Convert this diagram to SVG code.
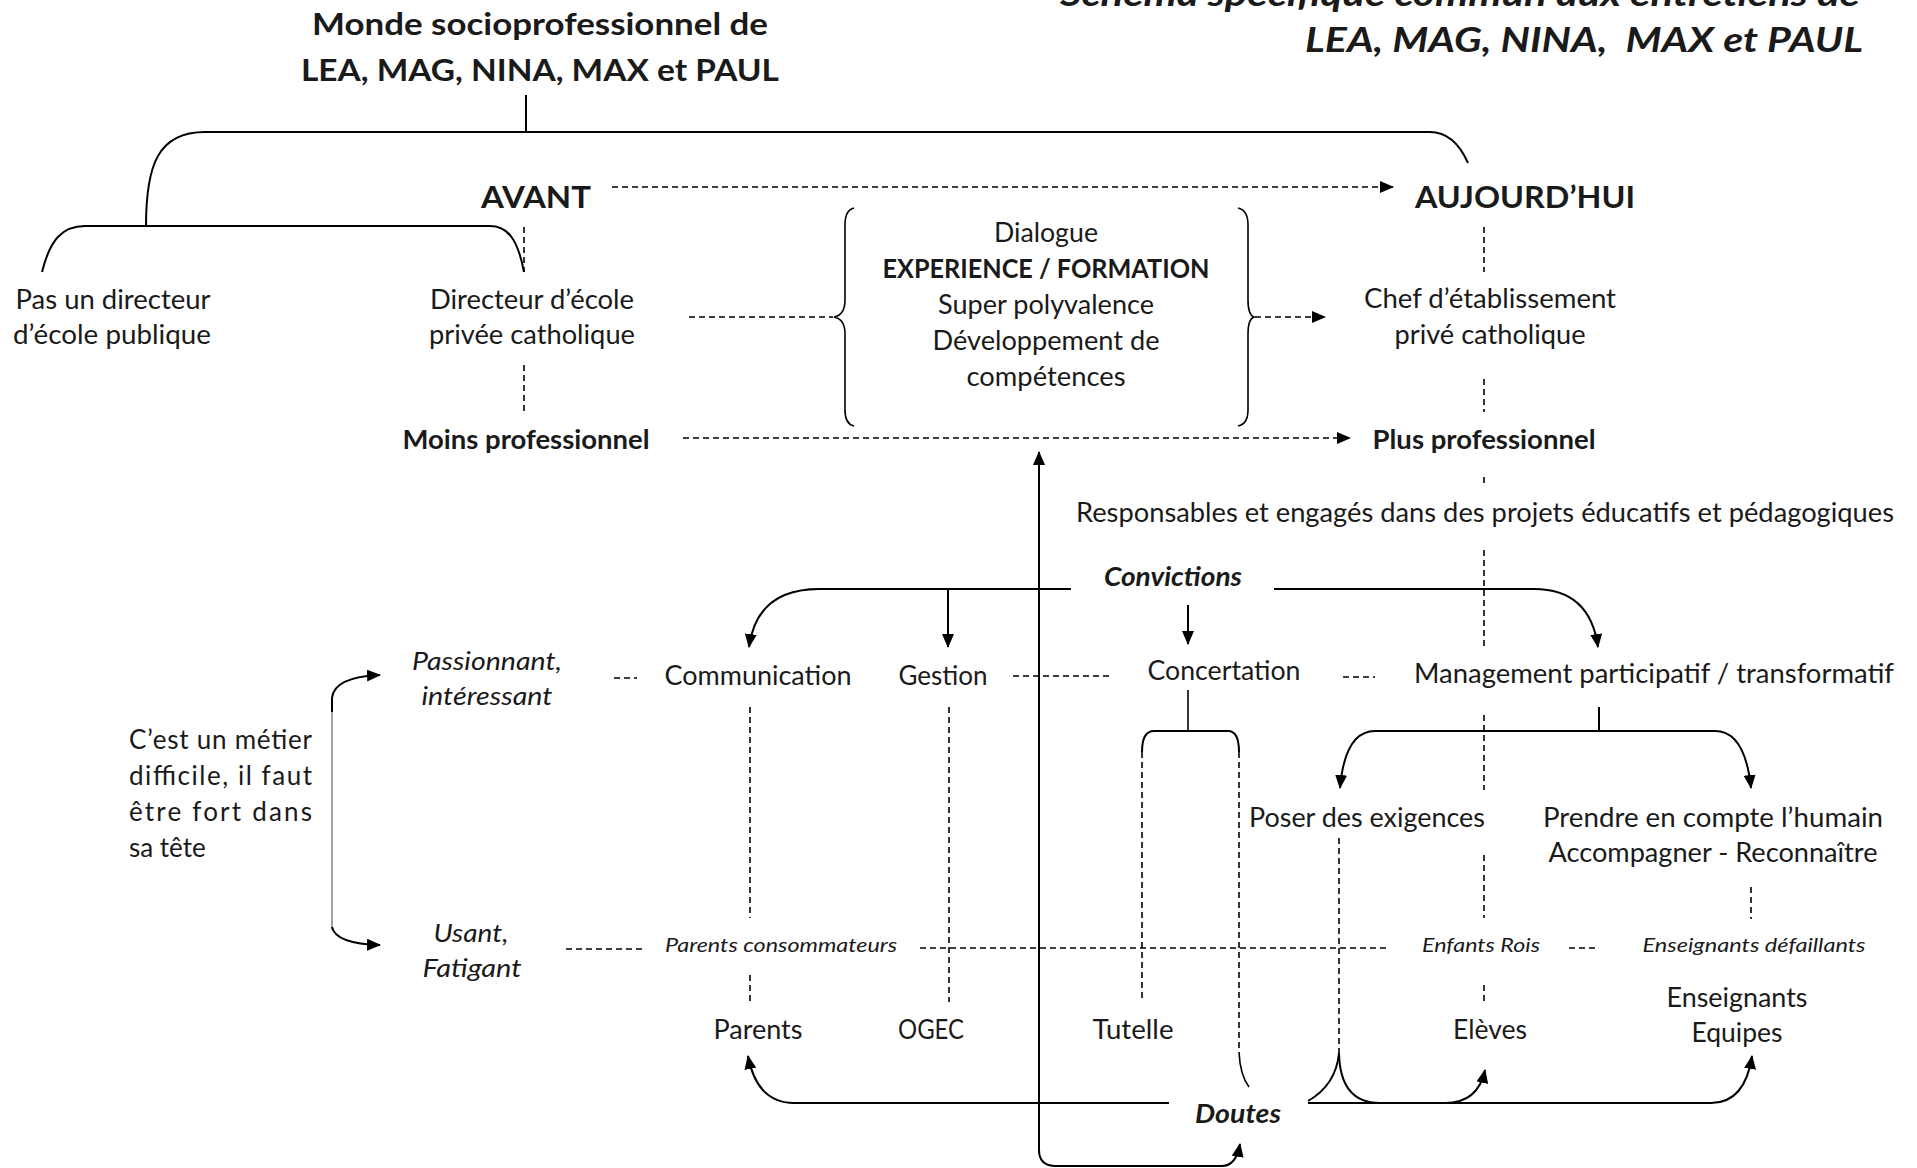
<svg xmlns="http://www.w3.org/2000/svg" width="1917" height="1168" viewBox="0 0 1917 1168">
<style>
text{font-family:Lato,"Liberation Sans",sans-serif;fill:#1a1a1a;font-size:26px}
.c{text-anchor:middle}
.e{text-anchor:end}
.b{font-weight:bold}
.i{font-style:italic}
.t{font-size:31px;font-weight:bold}
.tr{font-size:35px;font-weight:bold;font-style:italic;white-space:pre}
.s{font-size:20px;font-style:italic}
.ln{fill:none;stroke:#000;stroke-width:2}
.th{fill:none;stroke:#444;stroke-width:1}
.br{fill:none;stroke:#000;stroke-width:1.6}
.d{fill:none;stroke:#000;stroke-width:1.6;stroke-dasharray:6 4}
</style>
<defs>
<marker id="a" markerUnits="userSpaceOnUse" markerWidth="14" markerHeight="12" refX="13" refY="6" orient="auto"><path d="M0,0 L14,6 L0,12 z" fill="#000"/></marker>
</defs>
<rect width="1917" height="1168" fill="#fff"/>

<g id="connectors">
<path class="ln" d="M526,95 L526,132"/>
<path class="ln" d="M146,226 C146,165 158,132 205,132 L1430,132 C1448,132 1460,145 1468,163"/>
<path class="ln" d="M42,272 C50,240 62,226 85,226 L490,226 C508,226 518,240 524,272"/>
<path class="d" d="M524,227 L524,272 M524,365 L524,412"/>
<path class="d" d="M1484,227 L1484,272 M1484,379 L1484,412 M1484,477 L1484,484 M1484,550 L1484,647 M1484,715 L1484,790 M1484,855 L1484,918 M1484,985 L1484,1002"/>
<path class="d" d="M612,187 L1393,187" marker-end="url(#a)"/>
<path class="d" d="M689,317 L833,317"/>
<path class="d" d="M1255,317 L1325,317" marker-end="url(#a)"/>
<path class="d" d="M683,438 L1350,438" marker-end="url(#a)"/>
<path class="br" d="M854,208 Q845,210 845,225 L845,300 Q845,315 834,317 Q845,319 845,334 L845,410 Q845,424 854,426"/>
<path class="br" d="M1238,208 Q1248,210 1248,225 L1248,300 Q1248,315 1254,317 Q1248,319 1248,334 L1248,410 Q1248,424 1238,426"/>
<path class="ln" d="M1039,1150 L1039,452" marker-end="url(#a)"/>
<path class="ln" d="M1039,1150 Q1039,1166 1056,1166 L1222,1166 Q1236,1166 1240,1144" marker-end="url(#a)"/>
<path class="ln" d="M1071,589 L819,589 Q757,589 749,647" marker-end="url(#a)"/>
<path class="ln" d="M948,589 L948,647" marker-end="url(#a)"/>
<path class="ln" d="M1274,589 L1534,589 Q1590,589 1598,647" marker-end="url(#a)"/>
<path class="ln" d="M1188,605 L1188,644" marker-end="url(#a)"/>
<path class="d" d="M614,678 L637,678 M1013,676 L1111,676 M1343,677 L1375,677"/>
<path class="ln" d="M1599,707 L1599,731"/>
<path class="ln" d="M1375,731 L1715,731"/>
<path class="ln" d="M1375,731 Q1345,731 1340,788" marker-end="url(#a)"/>
<path class="ln" d="M1715,731 Q1745,731 1751,788" marker-end="url(#a)"/>
<path class="br" d="M1188,690 L1188,731"/>
<path class="ln" d="M1142,752 Q1142,731 1154,731 L1228,731 Q1239,731 1239,752"/>
<path class="d" d="M1142,752 L1142,1002 M1239,752 L1239,1050"/>
<path class="br" d="M1239,1052 Q1240,1075 1249,1087"/>
<path class="d" d="M750,707 L750,918 M750,975 L750,1002"/>
<path class="d" d="M949,707 L949,1002"/>
<path class="d" d="M1339,838 L1339,1053"/>
<path class="d" d="M1751,887 L1751,919"/>
<path class="d" d="M566,949 L642,949 M920,948 L1387,948 M1569,948 L1598,948"/>
<path class="th" d="M332,700 L332,930"/>
<path class="ln" d="M332,712 L332,698 Q334,677 380,675" marker-end="url(#a)"/>
<path class="ln" d="M332,927 Q336,944 380,945" marker-end="url(#a)"/>
<path class="ln" d="M1169,1103 L794,1103 Q757,1103 748,1056" marker-end="url(#a)"/>
<path class="ln" d="M1308,1103 L1711,1103 Q1745,1103 1752,1056" marker-end="url(#a)"/>
<path class="ln" d="M1308,1101 Q1336,1085 1339,1053"/>
<path class="ln" d="M1339,1053 Q1340,1103 1380,1103 L1445,1103 Q1478,1103 1485,1070" marker-end="url(#a)"/>
</g>

<g id="title"><text class="c t" x="540" y="35" textLength="456" lengthAdjust="spacingAndGlyphs">Monde socioprofessionnel de</text><text class="c t" x="540" y="81" textLength="478" lengthAdjust="spacingAndGlyphs">LEA, MAG, NINA, MAX et PAUL</text></g>
<g id="title-right"><text class="e tr" x="1860" y="6" textLength="800" lengthAdjust="spacingAndGlyphs">Schéma spécifique commun aux entretiens de</text><text class="e tr" x="1863" y="52" textLength="558" lengthAdjust="spacingAndGlyphs">LEA, MAG, NINA,  MAX et PAUL</text></g>
<g id="avant"><text class="c t" x="536" y="208" textLength="110" lengthAdjust="spacingAndGlyphs">AVANT</text></g>
<g id="aujourdhui"><text class="c t" x="1525" y="208" textLength="220" lengthAdjust="spacingAndGlyphs">AUJOURD’HUI</text></g>
<g id="pas-directeur"><text class="c" x="113" y="309" textLength="195" lengthAdjust="spacingAndGlyphs">Pas un directeur</text><text class="c" x="112" y="344" textLength="198" lengthAdjust="spacingAndGlyphs">d’école publique</text></g>
<g id="directeur"><text class="c" x="532" y="309" textLength="204" lengthAdjust="spacingAndGlyphs">Directeur d’école</text><text class="c" x="532" y="344" textLength="206" lengthAdjust="spacingAndGlyphs">privée catholique</text></g>
<g id="dialogue"><text class="c" x="1046" y="242" textLength="104" lengthAdjust="spacingAndGlyphs">Dialogue</text><text class="c b" x="1046" y="278" textLength="327" lengthAdjust="spacingAndGlyphs">EXPERIENCE / FORMATION</text><text class="c" x="1046" y="314" textLength="216" lengthAdjust="spacingAndGlyphs">Super polyvalence</text><text class="c" x="1046" y="350" textLength="227" lengthAdjust="spacingAndGlyphs">Développement de</text><text class="c" x="1046" y="386" textLength="159" lengthAdjust="spacingAndGlyphs">compétences</text></g>
<g id="chef"><text class="c" x="1490" y="308" textLength="252" lengthAdjust="spacingAndGlyphs">Chef d’établissement</text><text class="c" x="1490" y="344" textLength="191" lengthAdjust="spacingAndGlyphs">privé catholique</text></g>
<g id="moins"><text class="c b" x="526" y="449" textLength="247" lengthAdjust="spacingAndGlyphs">Moins professionnel</text></g>
<g id="plus"><text class="c b" x="1484" y="449" textLength="223" lengthAdjust="spacingAndGlyphs">Plus professionnel</text></g>
<g id="responsables"><text class="c" x="1485" y="522" textLength="818" lengthAdjust="spacingAndGlyphs">Responsables et engagés dans des projets éducatifs et pédagogiques</text></g>
<g id="convictions"><text class="c b i" x="1173" y="586" textLength="138" lengthAdjust="spacingAndGlyphs">Convictions</text></g>
<g id="communication"><text class="c" x="758" y="685" textLength="187" lengthAdjust="spacingAndGlyphs">Communication</text></g>
<g id="gestion"><text class="c" x="943" y="685" textLength="89" lengthAdjust="spacingAndGlyphs">Gestion</text></g>
<g id="concertation"><text class="c" x="1224" y="680" textLength="153" lengthAdjust="spacingAndGlyphs">Concertation</text></g>
<g id="management"><text class="c" x="1654" y="683" textLength="480" lengthAdjust="spacingAndGlyphs">Management participatif / transformatif</text></g>
<g id="passionnant"><text class="c i" x="487" y="670" textLength="150" lengthAdjust="spacingAndGlyphs">Passionnant,</text><text class="c i" x="487" y="705" textLength="131" lengthAdjust="spacingAndGlyphs">intéressant</text></g>
<g id="metier"><text x="129" y="749" textLength="183" lengthAdjust="spacing">C’est un métier</text><text x="129" y="785" textLength="183" lengthAdjust="spacing">difficile, il faut</text><text x="129" y="821" textLength="183" lengthAdjust="spacing">être fort dans</text><text x="129" y="857">sa tête</text></g>
<g id="poser"><text class="c" x="1367" y="827" textLength="236" lengthAdjust="spacingAndGlyphs">Poser des exigences</text></g>
<g id="prendre"><text class="c" x="1713" y="827" textLength="340" lengthAdjust="spacingAndGlyphs">Prendre en compte l’humain</text><text class="c" x="1713" y="862" textLength="329" lengthAdjust="spacingAndGlyphs">Accompagner - Reconnaître</text></g>
<g id="usant"><text class="c i" x="471" y="942" textLength="75" lengthAdjust="spacingAndGlyphs">Usant,</text><text class="c i" x="472" y="977" textLength="99" lengthAdjust="spacingAndGlyphs">Fatigant</text></g>
<g id="parents-conso"><text class="c s" x="781" y="952" textLength="232" lengthAdjust="spacingAndGlyphs">Parents consommateurs</text></g>
<g id="enfants-rois"><text class="c s" x="1481" y="952" textLength="118" lengthAdjust="spacingAndGlyphs">Enfants Rois</text></g>
<g id="ens-def"><text class="c s" x="1754" y="952" textLength="223" lengthAdjust="spacingAndGlyphs">Enseignants défaillants</text></g>
<g id="parents"><text class="c" x="758" y="1039" textLength="89" lengthAdjust="spacingAndGlyphs">Parents</text></g>
<g id="ogec"><text class="c" x="931" y="1039" textLength="66" lengthAdjust="spacingAndGlyphs">OGEC</text></g>
<g id="tutelle"><text class="c" x="1133" y="1039" textLength="81" lengthAdjust="spacingAndGlyphs">Tutelle</text></g>
<g id="eleves"><text class="c" x="1490" y="1039" textLength="74" lengthAdjust="spacingAndGlyphs">Elèves</text></g>
<g id="enseignants"><text class="c" x="1737" y="1007" textLength="141" lengthAdjust="spacingAndGlyphs">Enseignants</text><text class="c" x="1737" y="1042" textLength="91" lengthAdjust="spacingAndGlyphs">Equipes</text></g>
<g id="doutes"><text class="c b i" x="1238" y="1123" textLength="86" lengthAdjust="spacingAndGlyphs">Doutes</text></g>
</svg>
